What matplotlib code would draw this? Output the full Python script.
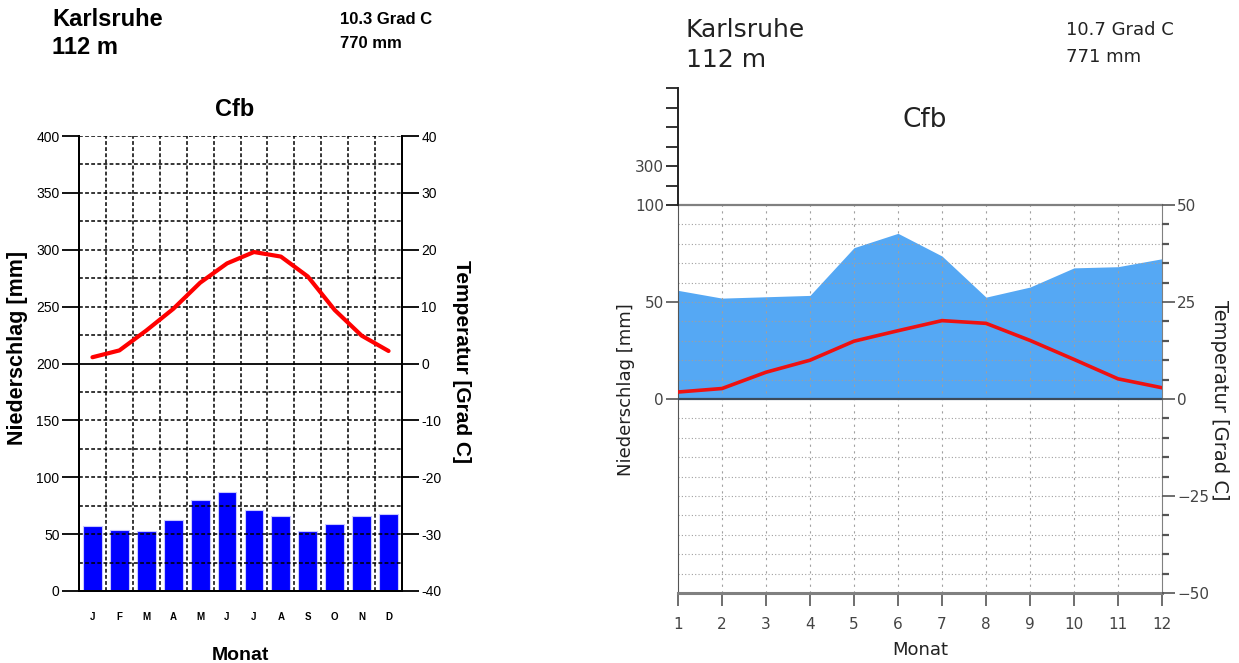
import numpy as np
import matplotlib
matplotlib.use('Agg')
import matplotlib.pyplot as plt
from matplotlib.ticker import MultipleLocator

# --- data ---
months = np.arange(1, 13)
month_letters = ['J', 'F', 'M', 'A', 'M', 'J', 'J', 'A', 'S', 'O', 'N', 'D']

# left diagram (bars + line)
precip_left = [57, 54, 53, 62, 80, 87, 71, 66, 53, 59, 66, 68]
temp_left = [1.1, 2.3, 5.8, 9.6, 14.2, 17.6, 19.6, 18.8, 15.3, 9.4, 4.9, 2.2]
left_yticks = [0, 50, 100, 150, 200, 250, 300, 350, 400]
left_tticks = [-40, -30, -20, -10, 0, 10, 20, 30, 40]

# right diagram (Walter-Lieth style)
precip_right = [56, 52, 52.7, 53.4, 78, 85.4, 73.7, 52.5, 57.7, 67.6, 68.2, 72.3]
temp_right = [1.8, 2.7, 6.9, 10.0, 14.9, 17.6, 20.2, 19.5, 15.1, 10.2, 5.2, 2.9]

W, H = 1239, 663
fig = plt.figure(figsize=(W / 100, H / 100), dpi=100)


def px_box(x0, y0, x1, y1):
    return [x0 / W, 1 - y1 / H, (x1 - x0) / W, (y1 - y0) / H]


def ftext(x, y, s, **kw):
    fig.text(x / W, 1 - y / H, s, **kw)


# ================= left diagram =================
lf = 'Liberation Sans'
ax1 = fig.add_axes(px_box(79, 136, 402, 591))
ax1.set_xlim(0.5, 12.5)
ax1.set_ylim(0, 400)
ax1.bar(months, precip_left, width=0.7, color='#0000ff', edgecolor='#c8c8ff',
        linewidth=0.8, zorder=2)
for y in range(25, 401, 25):
    if y == 200:
        ax1.axhline(y, color='black', lw=1.3, zorder=3)
    else:
        ax1.axhline(y, color='black', ls=(0, (2.5, 1.5)), lw=1.1, zorder=3)
for xb in np.arange(1.5, 12.5, 1):
    ax1.axvline(xb, color='black', ls=(0, (2.5, 1.5)), lw=1.1, zorder=3)
ax1.spines['top'].set_visible(False)
for s in ['left', 'right', 'bottom']:
    ax1.spines[s].set_linewidth(1.4)
ax1.set_yticks(left_yticks)
ax1.set_yticklabels([str(v) for v in left_yticks], family=lf, fontsize=10)
ax1.tick_params(axis='y', direction='out', length=12, width=1.3, pad=2)
ax1.set_xticks(months)
ax1.set_xticklabels(month_letters, family=lf, fontweight='bold', fontsize=7)
ax1.tick_params(axis='x', length=0, pad=15)

ax1r = ax1.twinx()
ax1r.set_ylim(-40, 40)
ax1r.plot(months, temp_left, color='red', lw=3, solid_capstyle='round', zorder=4)
ax1r.set_yticks(left_tticks)
ax1r.set_yticklabels([str(v) for v in left_tticks], family=lf, fontsize=10)
ax1r.tick_params(axis='y', direction='out', length=12, width=1.3, pad=2)
ax1r.spines['top'].set_visible(False)
for s in ['left', 'right', 'bottom']:
    ax1r.spines[s].set_linewidth(1.4)

ftext(52, 20, 'Karlsruhe', family=lf, fontweight='bold', fontsize=17, va='center')
ftext(52, 48, '112 m', family=lf, fontweight='bold', fontsize=17, va='center')
ftext(340, 20, '10.3 Grad C', family=lf, fontweight='bold', fontsize=12, va='center')
ftext(340, 44, '770 mm', family=lf, fontweight='bold', fontsize=12, va='center')
ftext(235, 109, 'Cfb', family=lf, fontweight='bold', fontsize=17, ha='center', va='center')
ftext(18, 348, 'Niederschlag [mm]', family=lf, fontweight='bold', fontsize=15.5,
      rotation=90, ha='center', va='center')
ftext(461, 362, 'Temperatur [Grad C]', family=lf, fontweight='bold', fontsize=15,
      rotation=-90, ha='center', va='center')
ftext(240, 655, 'Monat', family=lf, fontweight='bold', fontsize=14, ha='center', va='center')

# ================= right diagram =================
rf = 'DejaVu Sans'
gcol = '#808080'
tcol = '#444444'
ax2 = fig.add_axes(px_box(678, 205, 1162, 593))
ax2.set_xlim(1, 12)
ax2.set_ylim(-100, 100)
ax2.fill_between(months, 0, precip_right, color='#55a8f4', lw=0, zorder=1)
for y in range(-90, 100, 10):
    if y != 0:
        ax2.axhline(y, color='#a0a0a0', ls=(0, (1, 2)), lw=0.8, zorder=2)
for m in range(2, 12):
    ax2.axvline(m, color='#a0a0a0', ls=(0, (2, 4)), lw=0.8, zorder=2)
ax2.axhline(0, color='#3c4b5c', lw=1.6, zorder=3)
ax2.spines['top'].set_color(gcol)
ax2.spines['top'].set_linewidth(1.6)
ax2.spines['bottom'].set_color(gcol)
ax2.spines['bottom'].set_linewidth(2.2)
ax2.spines['left'].set_color('#555555')
ax2.spines['right'].set_color(gcol)
ax2.set_xticks(months)
ax2.set_xticklabels([str(m) for m in months], family=rf, fontsize=11, color=tcol)
ax2.tick_params(axis='x', direction='out', length=9, width=1.2, color='#555555', pad=8)
ax2.set_yticks([0, 50, 100])
ax2.set_yticklabels(['0', '50', '100'], family=rf, fontsize=11, color=tcol)
ax2.tick_params(axis='y', direction='out', length=9, width=1.2, color='#555555', pad=1)

ax2r = ax2.twinx()
ax2r.set_ylim(-50, 50)
ax2r.plot(months, temp_right, color='#ee1111', lw=2.6, zorder=4)
ax2r.set_yticks([-50, -25, 0, 25, 50])
ax2r.set_yticklabels(['\u221250', '\u221225', '0', '25', '50'], family=rf, fontsize=11, color=tcol)
ax2r.yaxis.set_minor_locator(MultipleLocator(5))
ax2r.tick_params(axis='y', which='major', direction='out', length=9, width=1.2, color='#555555', pad=2)
ax2r.tick_params(axis='y', which='minor', direction='out', length=5, width=1.6, color='#555555')
for s in ax2r.spines.values():
    s.set_visible(False)

ax3 = fig.add_axes(px_box(678, 88, 1162, 205))
ax3.set_ylim(100, 700)
ax3.set_xlim(1, 12)
ax3.patch.set_alpha(0)
for s in ['top', 'right', 'bottom']:
    ax3.spines[s].set_visible(False)
ax3.spines['left'].set_color('#222222')
ax3.spines['left'].set_linewidth(1.4)
ax3.set_xticks([])
ax3.set_yticks(range(100, 701, 100))
ax3.set_yticklabels(['', '', '300', '', '', '', ''], family=rf, fontsize=11, color=tcol)
ax3.tick_params(axis='y', direction='out', length=9, width=1.4, color='#333333', pad=1)

ftext(686, 30, 'Karlsruhe', family=rf, fontsize=18, va='center', color='#222222')
ftext(686, 60, '112 m', family=rf, fontsize=18, va='center', color='#222222')
ftext(1066, 30, '10.7 Grad C', family=rf, fontsize=13, va='center', color='#222222')
ftext(1066, 57, '771 mm', family=rf, fontsize=13, va='center', color='#222222')
ftext(925, 120, 'Cfb', family=rf, fontsize=19, ha='center', va='center', color='#222222')
ftext(626, 390, 'Niederschlag [mm]', family=rf, fontsize=13, rotation=90,
      ha='center', va='center', color='#222222')
ftext(1219, 400, 'Temperatur [Grad C]', family=rf, fontsize=14, rotation=-90,
      ha='center', va='center', color='#222222')
ftext(920, 650, 'Monat', family=rf, fontsize=13, ha='center', va='center', color='#222222')

fig.savefig('out.png', dpi=100)
